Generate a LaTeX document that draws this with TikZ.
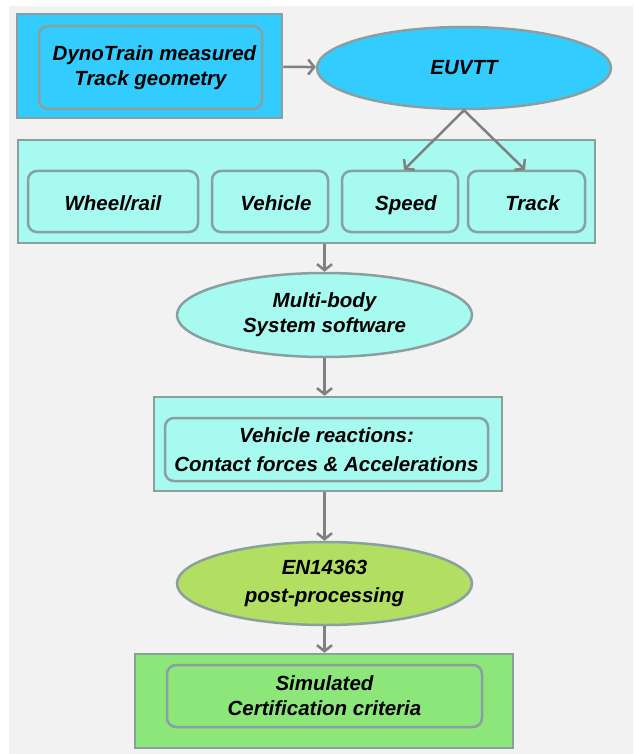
\documentclass[tikz,border=0pt]{standalone}
\usepackage{fontspec}
\setmainfont{Liberation Sans}
\usetikzlibrary{shapes.geometric,arrows.meta}

\definecolor{bggray}{HTML}{F2F2F2}
\definecolor{skyblue}{HTML}{33CCFF}
\definecolor{paleaqua}{HTML}{A6FAF0}
\definecolor{limegreen}{HTML}{B2DE61}
\definecolor{leafgreen}{HTML}{8CE67A}
\definecolor{rimgray}{HTML}{8AA0A0}
\definecolor{flowgray}{HTML}{808080}

\begin{document}
\begin{tikzpicture}[x=1pt,y=-1pt,
	every node/.style={font=\fontsize{20.5}{25}\selectfont\bfseries\itshape,align=center,inner sep=0pt},
	frame/.style={shape=rectangle,draw=rimgray,line width=2.5pt,fill=#1},
	panel/.style={shape=rectangle,rounded corners=9pt,draw=rimgray,line width=2.5pt,fill=#1},
	chip/.style={panel=paleaqua,minimum height=61,execute at begin node={\rule[-4.4pt]{0pt}{26.4pt}}},
	oval/.style={shape=ellipse,draw=rimgray,line width=2.5pt,fill=#1},
	flow/.style={draw=flowgray,line width=2.5pt,-{Straight Barb[length=6pt,width=15pt,line width=2.5pt]}}]
	\useasboundingbox (0,0) rectangle (633,754);
	\fill[bggray] (9,6) rectangle (633,754);
	\node[frame=skyblue,minimum width=265,minimum height=104] (dyno) at (149.5,66) {};
	\node[panel=skyblue,minimum width=223,minimum height=83] (dynotxt) at (150.5,67.5) {\hspace{8pt}DynoTrain measured\\Track geometry};
	\node[oval=skyblue,minimum width=294,minimum height=82] (euvtt) at (464,68) {EUVTT};
	\node[frame=paleaqua,minimum width=577,minimum height=103] (param) at (306.5,191.5) {};
	\node[chip,minimum width=170] (wheel) at (113,201.5) {Wheel/rail};
	\node[chip,minimum width=116] (vehicle) at (270,201.5) {\hspace{12pt}Vehicle};
	\node[chip,minimum width=116] (speed) at (400,201.5) {\hspace{12pt}Speed};
	\node[chip,minimum width=117] (track) at (526.5,201.5) {\hspace{12pt}Track};
	\node[oval=paleaqua,minimum width=295,minimum height=84] (mbs) at (324.5,315) {Multi-body\\System software};
	\node[frame=paleaqua,minimum width=348,minimum height=94] (react) at (328,444) {};
	\node[panel=paleaqua,minimum width=323,minimum height=63] (reacttxt) at (326.5,449.5) {Vehicle reactions:\\[4pt]Contact forces \& Accelerations};
	\node[oval=limegreen,minimum width=295,minimum height=83] (norm) at (324.5,583.5) {EN14363\\[3pt]post-processing};
	\node[frame=leafgreen,minimum width=378,minimum height=94] (cert) at (324,701) {};
	\node[panel=leafgreen,minimum width=315,minimum height=62] (certtxt) at (324.5,696) {Simulated\\Certification criteria};
	\draw[flow] (dyno) -- (euvtt);
	\draw[flow] (euvtt.south) -- ([xshift=4pt]speed.north);
	\draw[flow] (euvtt.south) -- ([xshift=-1.5pt]track.north);
	\draw[flow] (param.south -| mbs.north) -- (mbs.north);
	\draw[flow] (mbs.south) -- (mbs.south |- react.north);
	\draw[flow] (react.south -| norm.north) -- (norm.north);
	\draw[flow] (norm.south) -- (cert.north -| norm.south);
\end{tikzpicture}
\end{document}
